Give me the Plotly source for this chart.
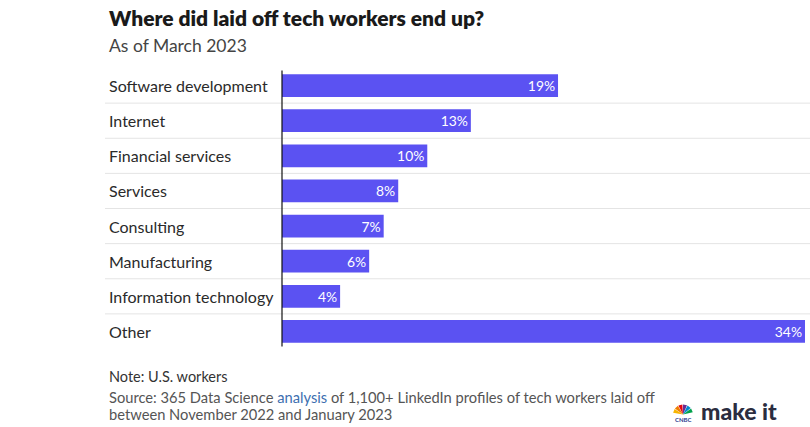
import plotly.graph_objects as go
import math

categories = ["Software development", "Internet", "Financial services", "Services",
              "Consulting", "Manufacturing", "Information technology", "Other"]
label_pct = [19, 13, 10, 8, 7, 6, 4, 34]
# bar lengths as drawn in the reference (the "Other" bar is drawn longer than its label)
bar_len = [19, 13, 10, 8, 7, 6, 4, 36]
labels = [f"{v}%" for v in label_pct]

W, H = 810, 427
L, R = 282, 805
T, B = 67.5, 348.6
PW, PH = R - L, B - T

def px(x):
    return (x - L) / PW

def py(y):
    return (B - y) / PH

BAR = "#5b52f2"
FONT = "Lato, 'Liberation Sans', sans-serif"

fig = go.Figure(go.Bar(
    x=bar_len, y=list(range(len(categories))), orientation="h",
    marker=dict(color=BAR, line=dict(width=0)),
    text=labels, textposition="inside", insidetextanchor="end",
    textfont=dict(color="white", size=14, family=FONT),
    width=0.65, hoverinfo="skip", cliponaxis=False,
))

shapes = []
for i in range(len(categories) - 1):
    shapes.append(dict(type="line", xref="paper", yref="y",
                       x0=px(105), x1=px(810), y0=i + 0.5, y1=i + 0.5,
                       line=dict(color="#e4e4e4", width=1), layer="below"))
shapes.append(dict(type="line", xref="paper", yref="paper",
                   x0=0, x1=0, y0=py(346), y1=py(70),
                   line=dict(color="#111111", width=1.2)))

annotations = []
for i, c in enumerate(categories):
    annotations.append(dict(text=c, xref="paper", yref="y", x=px(107), y=i,
                            xanchor="left", yanchor="middle", showarrow=False,
                            font=dict(size=16, color="#2a2a2a", family=FONT)))

annotations += [
    dict(text="Where did laid off tech workers end up?", xref="paper", yref="paper",
         x=px(107), y=py(17), xanchor="left", yanchor="middle", showarrow=False,
         font=dict(size=21, color="#1a1a1a", family=FONT, weight=800)),
    dict(text="As of March 2023", xref="paper", yref="paper",
         x=px(107), y=py(45), xanchor="left", yanchor="middle", showarrow=False,
         font=dict(size=17.5, color="#444444", family=FONT)),
    dict(text="Note: U.S. workers", xref="paper", yref="paper",
         x=px(107), y=py(376), xanchor="left", yanchor="middle", showarrow=False,
         font=dict(size=14.5, color="#333333", family=FONT)),
    dict(text="Source: 365 Data Science <span style='color:#3d6fb0'>analysis</span> of 1,100+ LinkedIn profiles of tech workers laid off",
         xref="paper", yref="paper",
         x=px(107), y=py(397), xanchor="left", yanchor="middle", showarrow=False,
         font=dict(size=14.7, color="#555555", family=FONT)),
    dict(text="between November 2022 and January 2023", xref="paper", yref="paper",
         x=px(107), y=py(414), xanchor="left", yanchor="middle", showarrow=False,
         font=dict(size=14.7, color="#555555", family=FONT)),
    dict(text="make it", xref="paper", yref="paper",
         x=px(779), y=py(411), xanchor="right", yanchor="middle", showarrow=False,
         font=dict(size=23, color="#2b2d3f", family=FONT, weight=900)),
]

# small peacock logo
cx, cy = 683, 414
cols = ["#f7b500", "#f07d00", "#e30613", "#6b2c91", "#0089d0", "#00a14b"]
for k, col in enumerate(cols):
    a0 = math.pi * (0.95 - k * 0.15)
    a1 = a0 - math.pi * 0.13
    r = 10
    xa, ya = cx + r * math.cos(a0), cy - r * math.sin(a0)
    xb, yb = cx + r * math.cos(a1), cy - r * math.sin(a1)
    path = f"M {px(cx)},{py(cy)} L {px(xa)},{py(ya)} L {px(xb)},{py(yb)} Z"
    shapes.append(dict(type="path", xref="paper", yref="paper", path=path,
                       fillcolor=col, line=dict(width=0)))
annotations.append(dict(text="<b>CNBC</b>", xref="paper", yref="paper", x=px(683), y=py(419),
                        xanchor="center", yanchor="middle", showarrow=False,
                        font=dict(size=6, color="#2b3a8f", family=FONT)))

fig.update_layout(
    width=W, height=H,
    margin=dict(l=L, r=W - R, t=T, b=H - B, pad=0),
    paper_bgcolor="white", plot_bgcolor="white",
    showlegend=False, bargap=0.35,
    xaxis=dict(range=[0, 36], visible=False, fixedrange=True),
    yaxis=dict(range=[7.5, -0.5], visible=False, fixedrange=True),
    shapes=shapes, annotations=annotations,
    uniformtext=dict(minsize=8, mode="show"),
)

fig.write_html("out.html", config={"displayModeBar": False},
               post_script="document.body.style.margin='0';document.body.style.overflow='hidden';")
